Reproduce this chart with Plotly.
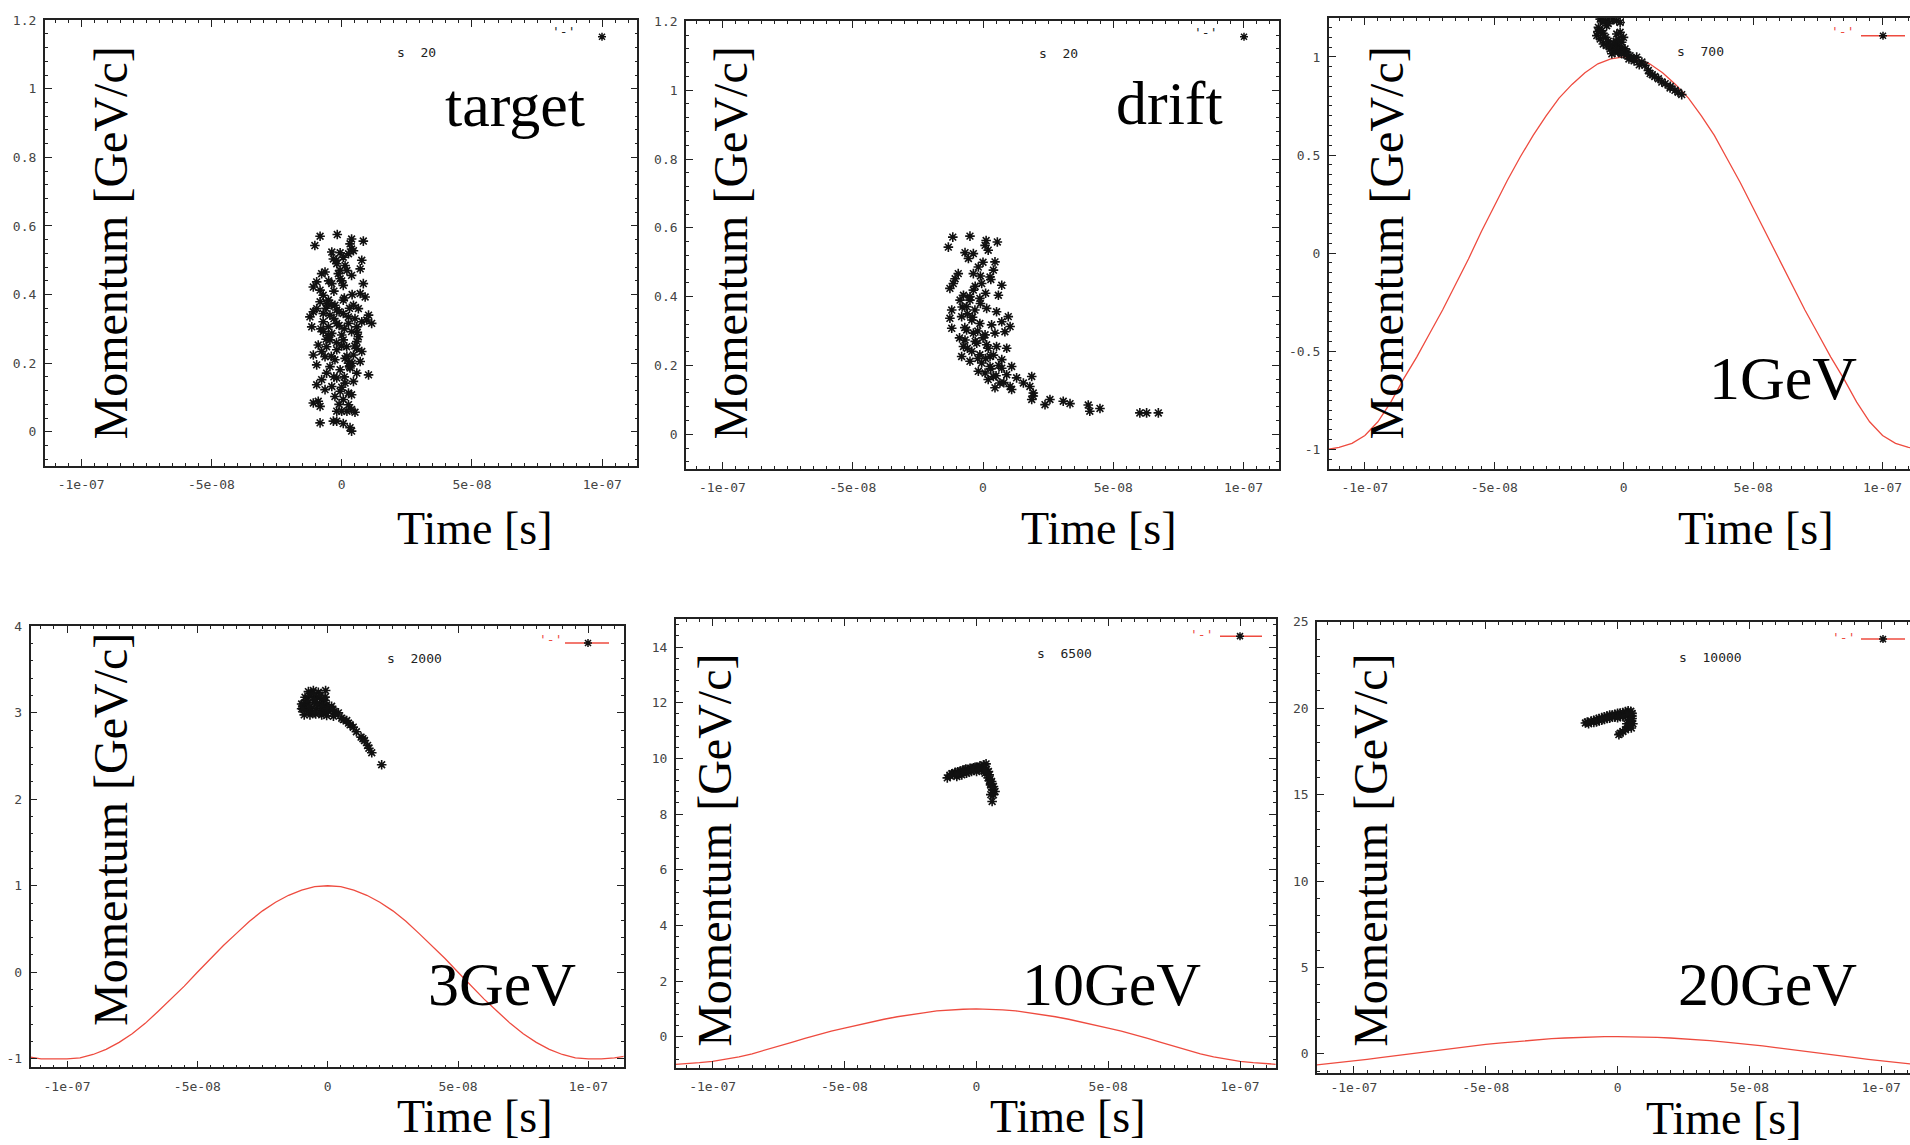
import numpy as np
import plotly.graph_objects as go

# ------------------------------------------------------------------ data
x_tick_vals = [-1e-7, -5e-8, 0.0, 5e-8, 1e-7]
x_tick_text = ["-1e-07", "-5e-08", "0", "5e-08", "1e-07"]

y_ticks_low = [0, 0.2, 0.4, 0.6, 0.8, 1.0, 1.2]
y_ticks_low_text = ["0", "0.2", "0.4", "0.6", "0.8", "1", "1.2"]
y_ticks_1gev = [-1, -0.5, 0, 0.5, 1]
y_ticks_1gev_text = ["-1", "-0.5", "0", "0.5", "1"]
y_ticks_3gev = [-1, 0, 1, 2, 3, 4]
y_ticks_3gev_text = ["-1", "0", "1", "2", "3", "4"]
y_ticks_10gev = [0, 2, 4, 6, 8, 10, 12, 14]
y_ticks_10gev_text = ["0", "2", "4", "6", "8", "10", "12", "14"]
y_ticks_20gev = [0, 5, 10, 15, 20, 25]
y_ticks_20gev_text = ["0", "5", "10", "15", "20", "25"]

stage_labels = ["target", "drift", "1GeV", "3GeV", "10GeV", "20GeV"]
step_labels = ["s  20", "s  20", "s  700", "s  2000", "s  6500", "s  10000"]
key_label = "'-'"
x_title = "Time [s]"
y_title = "Momentum [GeV/c]"

# particle (time [ns], momentum [GeV/c])
target_pts = [
    (-8.3, 0.570), (-1.7, 0.575), (3.8, 0.562), (8.3, 0.556), (3.2, 0.548), (-10.3, 0.543),
    (3.8, 0.533), (-3.8, 0.524), (-0.6, 0.522), (2.6, 0.519), (4.5, 0.528), (-3.2, 0.504),
    (0.6, 0.509), (7.7, 0.500), (-1.9, 0.490), (1.3, 0.485), (7.1, 0.475), (-0.6, 0.471),
    (-7.7, 0.461), (-6.4, 0.466), (-1.3, 0.461), (3.8, 0.456), (-0.6, 0.446), (-9.6, 0.437),
    (-10.9, 0.422), (8.3, 0.432), (0.6, 0.427), (-3.8, 0.432), (-8.3, 0.413), (-7.1, 0.398),
    (7.1, 0.403), (9.0, 0.393), (-5.1, 0.384), (-8.3, 0.379), (-5.8, 0.374), (-2.6, 0.369),
    (0.6, 0.384), (4.5, 0.369), (6.4, 0.359), (-9.6, 0.359), (-10.9, 0.350), (-7.1, 0.345),
    (-4.5, 0.340), (-1.9, 0.355), (0.6, 0.345), (2.6, 0.335), (5.1, 0.330), (10.3, 0.340),
    (-12.2, 0.335), (-11.5, 0.306), (-7.1, 0.321), (-5.1, 0.306), (-1.9, 0.316), (2.6, 0.316),
    (5.8, 0.306), (7.7, 0.321), (11.5, 0.316), (9.6, 0.326), (-7.1, 0.292), (-3.8, 0.287),
    (0.0, 0.282), (3.8, 0.292), (6.4, 0.277), (-4.5, 0.268), (0.6, 0.268), (5.8, 0.263),
    (-9.0, 0.253), (-5.8, 0.248), (-1.9, 0.239), (1.9, 0.248), (5.8, 0.243), (7.7, 0.234),
    (-7.7, 0.234), (-10.9, 0.224), (-6.4, 0.219), (-2.6, 0.210), (1.3, 0.214), (4.5, 0.224),
    (7.1, 0.205), (2.6, 0.200), (-9.6, 0.195), (-4.5, 0.190), (-0.6, 0.181), (3.2, 0.186),
    (5.8, 0.171), (10.3, 0.166), (-5.8, 0.171), (-7.7, 0.152), (-1.9, 0.157), (1.3, 0.142),
    (4.5, 0.147), (-3.8, 0.132), (-9.6, 0.137), (-6.4, 0.123), (-0.6, 0.118), (2.6, 0.113),
    (-2.6, 0.103), (0.6, 0.094), (3.8, 0.108), (-10.9, 0.084), (-8.3, 0.074), (-9.0, 0.089),
    (2.6, 0.079), (-1.9, 0.060), (0.0, 0.060), (3.8, 0.065), (5.1, 0.057), (-8.3, 0.026),
    (-3.2, 0.031), (-1.9, 0.031), (0.6, 0.024), (3.2, 0.012), (3.8, 0.002),
    (-6.0, 0.36), (-4.0, 0.37), (-3.0, 0.33), (-1.0, 0.31), (1.0, 0.30), (3.0, 0.36),
    (-8.0, 0.30), (-5.0, 0.28), (-2.0, 0.26), (0.0, 0.25), (2.0, 0.22), (4.0, 0.20),
    (-4.0, 0.22), (-6.0, 0.27), (5.0, 0.25), (6.0, 0.29), (-1.0, 0.35), (1.0, 0.39),
    (-3.0, 0.41), (0.0, 0.44), (-5.0, 0.44), (2.0, 0.47), (-2.0, 0.50), (4.0, 0.40),
    (3.0, 0.19), (-3.0, 0.16), (1.0, 0.16), (0.0, 0.13), (2.0, 0.06), (-1.0, 0.08),
]

drift_pts = [
    (-11.6, 0.573), (-5.0, 0.576), (-13.3, 0.544), (1.2, 0.563), (5.5, 0.559), (-6.9, 0.528),
    (-3.7, 0.525), (2.0, 0.535), (0.8, 0.549), (4.6, 0.501), (-5.6, 0.511), (-1.8, 0.486),
    (4.0, 0.477), (-9.5, 0.467), (-10.7, 0.452), (-3.7, 0.467), (2.7, 0.457), (-12.7, 0.424),
    (-11.4, 0.438), (7.2, 0.433), (-0.5, 0.438), (-3.7, 0.419), (5.9, 0.404), (-7.5, 0.404),
    (-8.8, 0.390), (-5.0, 0.390), (-1.2, 0.395), (-6.3, 0.371), (-12.0, 0.361), (-3.1, 0.361),
    (1.4, 0.366), (5.2, 0.356), (9.7, 0.342), (-12.7, 0.337), (-8.2, 0.342), (-4.3, 0.332),
    (-1.2, 0.322), (3.3, 0.318), (7.2, 0.327), (10.4, 0.313), (-12.0, 0.308), (-6.3, 0.303),
    (-3.7, 0.294), (0.8, 0.289), (4.6, 0.294), (8.4, 0.298), (-6.9, 0.274), (-2.4, 0.265),
    (1.4, 0.260), (5.2, 0.255), (9.1, 0.250), (-7.5, 0.255), (-4.3, 0.241), (-8.2, 0.226),
    (-1.2, 0.231), (2.7, 0.226), (7.2, 0.217), (11.0, 0.197), (-5.0, 0.212), (-0.5, 0.207),
    (2.7, 0.197), (7.2, 0.192), (0.8, 0.178), (-1.8, 0.183), (4.0, 0.168), (9.1, 0.173),
    (12.9, 0.164), (18.7, 0.168), (2.0, 0.159), (6.5, 0.149), (10.4, 0.139), (4.6, 0.135),
    (11.0, 0.130), (18.0, 0.139), (19.3, 0.120), (15.5, 0.149), (19.3, 0.111), (18.7, 0.101),
    (23.8, 0.086), (25.7, 0.101), (30.8, 0.096), (33.4, 0.089), (40.4, 0.085), (41.0, 0.067),
    (44.9, 0.075), (60.2, 0.062), (62.8, 0.062), (67.3, 0.062),
    (-8.0, 0.37), (-6.0, 0.35), (-4.0, 0.34), (-2.0, 0.30), (0.0, 0.28), (2.0, 0.25),
    (4.0, 0.23), (6.0, 0.20), (-5.0, 0.40), (-3.0, 0.43), (-1.0, 0.46), (0.0, 0.50),
    (-7.0, 0.31), (-3.0, 0.27), (1.0, 0.22), (3.0, 0.19), (5.0, 0.17), (8.0, 0.15),
    (-9.0, 0.28), (-6.0, 0.25), (-1.0, 0.38), (1.0, 0.41), (3.0, 0.45), (-2.0, 0.22),
]

gev1_pts = [
    (-9.1, 1.193), (-7.2, 1.185), (-5.3, 1.190), (-2.7, 1.185), (-1.4, 1.176), (-9.8, 1.151),
    (-8.5, 1.134), (-6.6, 1.159), (-10.4, 1.109), (-9.1, 1.092), (-7.9, 1.066), (-6.6, 1.058),
    (-5.3, 1.041), (-4.0, 1.050), (-2.1, 1.058), (-0.8, 1.075), (-0.1, 1.100), (-1.4, 1.126),
    (-2.7, 1.117), (0.5, 1.041), (1.2, 1.024), (-0.8, 1.016), (-3.4, 1.024), (-4.6, 1.016),
    (2.4, 1.007), (3.7, 0.991), (5.0, 0.999), (7.0, 0.974), (8.2, 0.957), (9.5, 0.931),
    (10.2, 0.915), (13.4, 0.889), (14.7, 0.872), (16.0, 0.864), (17.9, 0.842), (19.8, 0.830),
    (22.4, 0.808),
    (-8.0, 1.12), (-7.0, 1.10), (-6.0, 1.08), (-5.0, 1.06), (-4.0, 1.07), (-3.0, 1.08),
    (-2.0, 1.09), (-1.0, 1.05), (0.0, 1.03), (1.0, 1.01), (-3.0, 1.04), (-2.0, 1.03),
    (-1.0, 1.02), (2.0, 0.99), (4.0, 0.98), (6.0, 0.96), (-6.0, 1.17), (-4.0, 1.19),
    (-8.0, 1.18), (-10.0, 1.13), (11.0, 0.91), (12.0, 0.90), (18.0, 0.85), (21.0, 0.82),
]

gev3_pts = [
    (-7.4, 3.244), (-5.5, 3.256), (-3.6, 3.237), (-0.8, 3.256), (-8.7, 3.179), (-6.8, 3.191),
    (-4.2, 3.179), (-2.3, 3.160), (-1.0, 3.141), (-9.3, 3.102), (-7.4, 3.114), (-5.1, 3.121),
    (-3.0, 3.102), (-0.4, 3.091), (1.5, 3.075), (-10.0, 3.045), (-8.1, 3.045), (-6.2, 3.052),
    (-4.2, 3.045), (-2.1, 3.045), (0.2, 3.025), (2.5, 3.014), (4.1, 2.998), (-9.0, 2.975),
    (-6.8, 2.975), (-4.6, 2.987), (-2.3, 2.975), (-0.4, 2.968), (2.2, 2.960), (5.4, 2.937),
    (7.3, 2.910), (8.6, 2.860), (9.8, 2.833), (12.8, 2.718), (14.1, 2.679), (15.3, 2.622),
    (16.9, 2.537), (20.7, 2.399),
    (-9.0, 3.08), (-7.0, 3.02), (-5.0, 3.00), (-3.0, 3.00), (-1.0, 3.02), (1.0, 3.04),
    (3.0, 2.99), (-8.0, 3.14), (-6.0, 3.22), (-4.0, 3.10), (-2.0, 3.07), (0.0, 3.05),
    (2.0, 3.03), (-5.0, 3.15), (-3.0, 3.20), (6.0, 2.92), (8.0, 2.88), (-10.0, 3.10),
    (-9.5, 3.04), (-7.0, 3.06), (-1.0, 3.18), (11.0, 2.78), (13.5, 2.70), (15.8, 2.59),
]

gev10_pts = [
    (-11.0, 9.30), (-10.0, 9.38), (-9.3, 9.45), (-8.1, 9.469), (-7.4, 9.350), (-6.2, 9.529),
    (-5.5, 9.409), (-4.3, 9.588), (-3.7, 9.469), (-2.4, 9.648), (-1.8, 9.529), (-0.5, 9.684),
    (0.1, 9.529), (1.4, 9.731), (2.0, 9.588), (2.9, 9.767), (3.7, 9.803), (3.9, 9.612),
    (4.6, 9.529), (3.3, 9.469), (4.9, 9.409), (5.2, 9.254), (5.8, 9.171), (5.4, 9.051),
    (6.5, 8.992), (6.2, 8.872), (7.1, 8.813), (6.5, 8.693), (6.0, 8.455),
    (-9.0, 9.45), (-8.0, 9.50), (-7.0, 9.52), (-6.0, 9.55), (-5.0, 9.58), (-4.0, 9.62),
    (-3.0, 9.60), (-2.0, 9.64), (-1.0, 9.66), (0.0, 9.68), (1.0, 9.68), (2.0, 9.70),
    (3.0, 9.68), (4.0, 9.50), (4.5, 9.30), (5.0, 9.20), (5.5, 9.10), (6.0, 8.95),
    (-10.0, 9.40), (-7.0, 9.42), (-5.0, 9.48), (-3.0, 9.52), (-1.0, 9.58), (1.0, 9.60),
    (3.0, 9.55), (5.5, 8.70),
]

gev20_pts = [
    (-12.2, 19.14), (-11.5, 19.20), (-11.0, 19.10), (-10.0, 19.25), (-9.0, 19.30), (-8.0, 19.35),
    (-9.0, 19.18), (-7.0, 19.40), (-6.0, 19.45), (-7.0, 19.28), (-5.0, 19.50), (-4.0, 19.55),
    (-5.0, 19.35), (-3.0, 19.60), (-2.0, 19.60), (-3.0, 19.42), (-1.0, 19.65), (0.0, 19.70),
    (-1.0, 19.48), (1.0, 19.72), (2.0, 19.75), (1.0, 19.52), (3.0, 19.80), (4.0, 19.85),
    (3.0, 19.55), (5.0, 19.82), (5.5, 19.70), (4.5, 19.50), (5.5, 19.40), (5.0, 19.25),
    (5.8, 19.10), (4.8, 19.00), (5.2, 18.85), (4.0, 18.90), (3.0, 18.75), (2.0, 18.65),
    (1.0, 18.55), (0.5, 18.47), (-2.0, 19.50), (0.0, 19.45), (2.0, 19.50), (4.0, 19.65),
    (5.5, 19.55), (-4.0, 19.40), (-6.0, 19.30), (-8.0, 19.20), (3.5, 19.10), (4.5, 19.30),
]

# RF reference curves (time [ns], value)
rf_t_ns = [-114, -110, -105, -100, -95, -90, -85, -80, -75, -70, -65, -60, -55, -50,
           -45, -40, -35, -30, -25, -20, -15, -10, -5, 0,
           5, 10, 15, 20, 25, 30, 35, 40, 45, 50, 55, 60, 65, 70,
           75, 80, 85, 90, 95, 100, 105, 110, 114]
rf_1gev = [-1.0, -0.99, -0.97, -0.93, -0.86, -0.76, -0.64, -0.53, -0.41, -0.29, -0.16, -0.03,
           0.11, 0.24, 0.37, 0.49, 0.60, 0.70, 0.79, 0.86, 0.92, 0.965, 0.99, 1.0,
           0.99, 0.965, 0.92, 0.86, 0.79, 0.70, 0.60, 0.48, 0.36, 0.23, 0.10, -0.03, -0.16, -0.29,
           -0.41, -0.53, -0.64, -0.76, -0.86, -0.93, -0.97, -0.99, -1.0]
rf_3gev = [-0.98, -1.0, -1.0, -1.0, -0.99, -0.95, -0.89, -0.81, -0.71, -0.59, -0.45, -0.31,
           -0.16, 0.0, 0.16, 0.31, 0.45, 0.59, 0.71, 0.81, 0.89, 0.95, 0.99, 1.0,
           0.99, 0.95, 0.89, 0.81, 0.71, 0.59, 0.45, 0.31, 0.16, 0.0, -0.16, -0.31, -0.45, -0.59,
           -0.71, -0.81, -0.89, -0.95, -0.99, -1.0, -1.0, -0.99, -0.97]
rf_10gev = [-0.99, -0.97, -0.93, -0.88, -0.81, -0.72, -0.61, -0.48, -0.34, -0.20, -0.06, 0.08,
            0.20, 0.31, 0.42, 0.53, 0.63, 0.72, 0.80, 0.86, 0.93, 0.97, 0.99, 1.0,
            0.99, 0.97, 0.93, 0.86, 0.80, 0.72, 0.63, 0.53, 0.42, 0.31, 0.20, 0.08, -0.06, -0.20,
            -0.34, -0.48, -0.61, -0.72, -0.81, -0.88, -0.93, -0.97, -0.99]
rf_20gev = [-0.63, -0.57, -0.49, -0.40, -0.31, -0.21, -0.11, -0.01, 0.09, 0.18, 0.28, 0.37,
            0.46, 0.55, 0.63, 0.70, 0.77, 0.83, 0.88, 0.92, 0.96, 0.98, 1.0, 1.0,
            1.0, 0.98, 0.96, 0.92, 0.88, 0.83, 0.77, 0.70, 0.63, 0.55, 0.46, 0.37, 0.28, 0.18,
            0.09, -0.01, -0.11, -0.21, -0.31, -0.40, -0.49, -0.57, -0.63]

# ------------------------------------------------------------------ layout helpers
W, H = 1910, 1145


def fx(x):
    return x / W


def fy(y):
    return 1 - y / H


BLACK = "#111111"
RED = "#ee4b3f"
FRAME = "#222222"
TICKFONT = dict(family="DejaVu Sans Mono", size=13, color="#444444")
SERIF = "Liberation Serif, Times New Roman, serif"
MONO = "DejaVu Sans Mono, monospace"

# frame placement (pixels) and axis ranges for each of the 6 panels
panels = [
    dict(l=44.7, r=637.4, t=13.3, b=461.9, xr=[-1.14e-7, 1.135e-7], yr=[-0.1, 1.2],
         yt=(y_ticks_low, y_ticks_low_text), ymin=0.04, mirror=True, xstand=6),
    dict(l=686.0, r=1278.7, t=14.5, b=464.5, xr=[-1.14e-7, 1.135e-7], yr=[-0.1, 1.2],
         yt=(y_ticks_low, y_ticks_low_text), ymin=0.04, mirror=True, xstand=6),
    dict(l=1328.7, r=1910.0, t=10.8, b=464.7, xr=[-1.14e-7, 1.106e-7], yr=[-1.1, 1.2],
         yt=(y_ticks_1gev, y_ticks_1gev_text), ymin=0.05, mirror=False, xstand=6),
    dict(l=30.5, r=623.6, t=623.0, b=1067.0, xr=[-1.14e-7, 1.135e-7], yr=[-1.1, 4.0],
         yt=(y_ticks_3gev, y_ticks_3gev_text), ymin=0.2, mirror=True, xstand=6),
    dict(l=675.7, r=1275.6, t=616.0, b=1067.5, xr=[-1.14e-7, 1.135e-7], yr=[-1.12, 15.0],
         yt=(y_ticks_10gev, y_ticks_10gev_text), ymin=0.4, mirror=True, xstand=6),
    dict(l=1317.0, r=1910.0, t=618.5, b=1072.5, xr=[-1.14e-7, 1.109e-7], yr=[-1.1, 25.0],
         yt=(y_ticks_20gev, y_ticks_20gev_text), ymin=1.0, mirror=False, xstand=2),
]

clusters = [target_pts, drift_pts, gev1_pts, gev3_pts, gev10_pts, gev20_pts]
curves = [None, None, rf_1gev, rf_3gev, rf_10gev, rf_20gev]

# text placements (pixel centres)
ytitle_pos = [(111, 238), (731, 238), (1387, 238), (111, 828), (715, 849), (1371, 849)]
xtitle_pos = [(475, 525), (1099, 525), (1756, 525), (475, 1116), (1068, 1116), (1724, 1118)]
stage_pos = [(515, 99), (1169, 97), (1783, 373), (502, 983), (1111, 983), (1767, 983)]
step_pos = [(416, 46), (1058, 47), (1700, 45), (414, 656), (1064, 650), (1710, 654)]
keytext_pos = [(563, 25), (1205, 26), (1842, 25), (550, 636), (1201, 631), (1843, 634)]
keymark_pos = [(602, 30), (1244, 30), (1883, 29), (588, 640), (1240, 633), (1883, 636)]
keyline_pos = [None, None, (1861, 1905, 29), (565, 609, 640), (1220, 1262, 633), (1861, 1905, 636)]

fig = go.Figure()
layout = dict(width=W, height=H, margin=dict(l=0, r=0, t=0, b=0),
              paper_bgcolor="white", plot_bgcolor="white", showlegend=False)
annotations = []
shapes = []

for i, p in enumerate(panels):
    n = i + 1
    xa = "x" if n == 1 else f"x{n}"
    ya = "y" if n == 1 else f"y{n}"
    xkey = "xaxis" if n == 1 else f"xaxis{n}"
    ykey = "yaxis" if n == 1 else f"yaxis{n}"

    layout[xkey] = dict(
        domain=[fx(p["l"]), fx(p["r"])], range=p["xr"], anchor=ya,
        tickmode="array", tickvals=x_tick_vals, ticktext=x_tick_text,
        ticks="inside", ticklen=7, tickwidth=1.2, tickcolor=FRAME,
        showline=True, linecolor=FRAME, linewidth=1.6, mirror="ticks",
        showgrid=False, zeroline=False, tickfont=TICKFONT, ticklabelstandoff=p["xstand"],
        minor=dict(ticks="inside", ticklen=3, tickwidth=1, tickcolor=FRAME,
                   dtick=5e-9, tick0=0, showgrid=False),
    )
    layout[ykey] = dict(
        domain=[fy(p["b"]), fy(p["t"])], range=p["yr"], anchor=xa,
        tickmode="array", tickvals=p["yt"][0], ticktext=p["yt"][1],
        ticks="inside", ticklen=7, tickwidth=1.2, tickcolor=FRAME,
        showline=True, linecolor=FRAME, linewidth=1.6,
        mirror="ticks" if p["mirror"] else False,
        showgrid=False, zeroline=False, tickfont=TICKFONT, ticklabelstandoff=4,
        minor=dict(ticks="inside", ticklen=3, tickwidth=1, tickcolor=FRAME,
                   dtick=p["ymin"], tick0=0, showgrid=False),
    )

    if curves[i] is not None:
        fig.add_trace(go.Scatter(
            x=np.array(rf_t_ns) * 1e-9, y=curves[i], mode="lines",
            line=dict(color=RED, width=1.3), xaxis=xa, yaxis=ya, hoverinfo="skip"))

    pts = clusters[i]
    fig.add_trace(go.Scatter(
        x=np.array([q[0] for q in pts]) * 1e-9, y=[q[1] for q in pts], mode="markers",
        marker=dict(symbol="asterisk-open", size=8, color=BLACK, line=dict(width=1.6, color=BLACK)),
        xaxis=xa, yaxis=ya, hoverinfo="skip"))

    # texts
    annotations.append(dict(text=y_title, x=fx(ytitle_pos[i][0]), y=fy(ytitle_pos[i][1]),
                            xref="paper", yref="paper", showarrow=False, textangle=-90,
                            xanchor="center", yanchor="middle",
                            font=dict(family=SERIF, size=48, color="black")))
    annotations.append(dict(text=x_title, x=fx(xtitle_pos[i][0]), y=fy(xtitle_pos[i][1]),
                            xref="paper", yref="paper", showarrow=False,
                            xanchor="center", yanchor="middle",
                            font=dict(family=SERIF, size=46, color="black")))
    annotations.append(dict(text=stage_labels[i], x=fx(stage_pos[i][0]), y=fy(stage_pos[i][1]),
                            xref="paper", yref="paper", showarrow=False,
                            xanchor="center", yanchor="middle",
                            font=dict(family=SERIF, size=62, color="black")))
    annotations.append(dict(text=step_labels[i].replace(" ", "&nbsp;"), x=fx(step_pos[i][0]),
                            y=fy(step_pos[i][1]), xref="paper", yref="paper", showarrow=False,
                            xanchor="center", yanchor="middle",
                            font=dict(family=MONO, size=13, color="#222222")))
    annotations.append(dict(text=key_label, x=fx(keytext_pos[i][0]), y=fy(keytext_pos[i][1]),
                            xref="paper", yref="paper", showarrow=False,
                            xanchor="center", yanchor="middle",
                            font=dict(family=MONO, size=13,
                                      color=RED if curves[i] is not None else "#222222")))

    # key sample
    if keyline_pos[i] is not None:
        x0, x1, yy = keyline_pos[i]
        shapes.append(dict(type="line", xref="paper", yref="paper",
                           x0=fx(x0), x1=fx(x1), y0=fy(yy), y1=fy(yy),
                           line=dict(color=RED, width=1.5)))
    kx, ky = keymark_pos[i]
    shapes.append(dict(type="path", xref="paper", yref="paper",
                       xsizemode="pixel", ysizemode="pixel",
                       xanchor=fx(kx), yanchor=fy(ky),
                       path="M-4,0L4,0M0,-4L0,4M-3,-3L3,3M-3,3L3,-3",
                       line=dict(color=BLACK, width=1.5)))

layout["annotations"] = annotations
layout["shapes"] = shapes
fig.update_layout(**layout)
fig.write_html("out.html")
